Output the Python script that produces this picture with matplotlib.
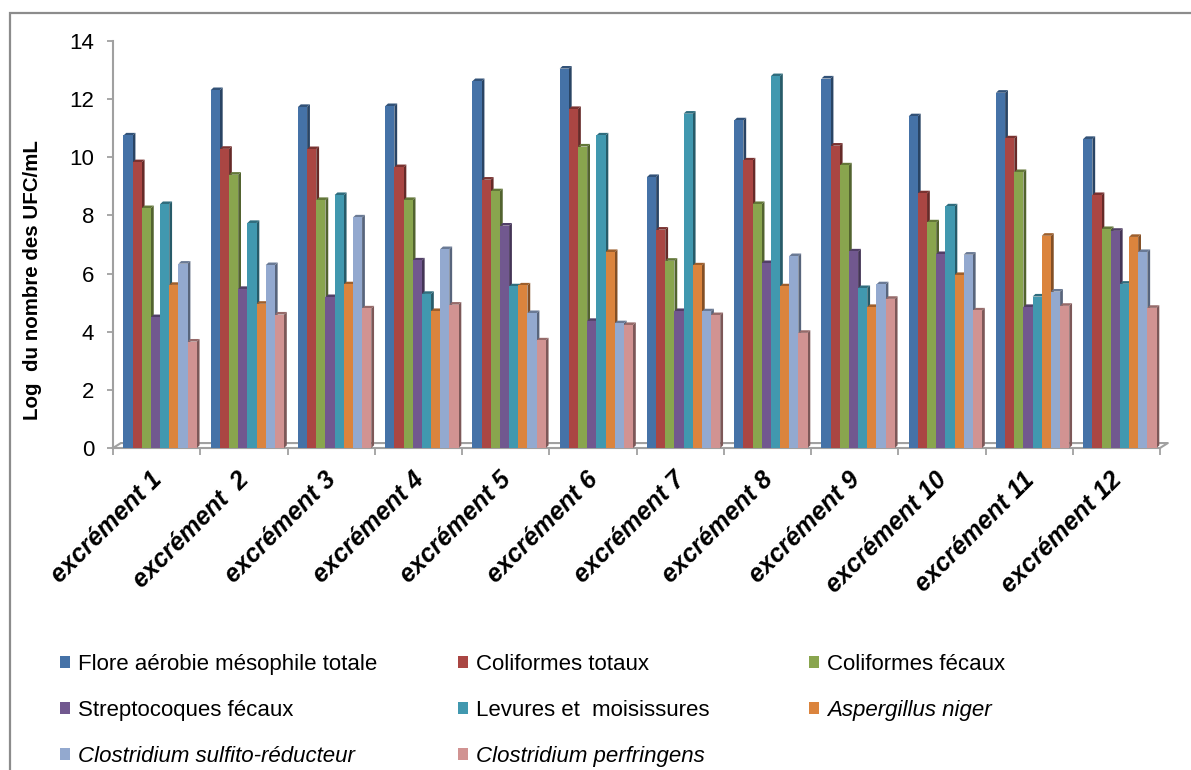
import numpy as np
import matplotlib.pyplot as plt
import matplotlib.colors as mcolors
import matplotlib.transforms as mtransforms
from matplotlib.patches import Polygon, Rectangle, Patch

plt.rcParams['font.family'] = ['Liberation Sans', 'DejaVu Sans']

samples = ["excrément 1", "excrément  2", "excrément 3", "excrément 4",
           "excrément 5", "excrément 6", "excrément 7", "excrément 8",
           "excrément 9", "excrément 10", "excrément 11", "excrément 12"]

series = ["Flore aérobie mésophile totale", "Coliformes totaux", "Coliformes fécaux",
          "Streptocoques fécaux", "Levures et  moisissures", "Aspergillus niger",
          "Clostridium sulfito-réducteur", "Clostridium perfringens"]
italic = [False, False, False, False, False, True, True, True]

# log10 UFC/mL per sample
flore = [10.75, 12.31, 11.73, 11.76, 12.62, 13.05, 9.32, 11.27, 12.71, 11.41, 12.22, 10.63]
coli_tot = [9.83, 10.29, 10.28, 9.66, 9.23, 11.66, 7.51, 9.89, 10.40, 8.76, 10.65, 8.70]
coli_fec = [8.25, 9.40, 8.53, 8.53, 8.83, 10.37, 6.44, 8.39, 9.72, 7.76, 9.49, 7.53]
strepto = [4.50, 5.47, 5.19, 6.45, 7.65, 4.37, 4.71, 6.36, 6.76, 6.67, 4.85, 7.47]
levures = [8.39, 7.74, 8.70, 5.30, 5.56, 10.75, 11.50, 12.79, 5.50, 8.31, 5.21, 5.65]
asperg = [5.61, 4.96, 5.63, 4.71, 5.59, 6.74, 6.28, 5.56, 4.85, 5.95, 7.30, 7.26]
clos_sr = [6.34, 6.29, 7.93, 6.84, 4.64, 4.29, 4.70, 6.60, 5.63, 6.65, 5.38, 6.74]
clos_pf = [3.66, 4.59, 4.80, 4.93, 3.70, 4.23, 4.57, 3.96, 5.13, 4.73, 4.89, 4.82]

values = [flore, coli_tot, coli_fec, strepto, levures, asperg, clos_sr, clos_pf]
colors = ['#4572A7', '#AA4643', '#89A54E', '#71588F',
          '#4198AF', '#DB843D', '#93A9CF', '#D19392']

def shade(c, f):
    r, g, b = mcolors.to_rgb(c)
    return (r * f, g * f, b * f)

W, H = 1191, 770
fig = plt.figure(figsize=(W / 100, H / 100), dpi=100)
ax = fig.add_axes([113 / W, 322 / H, 1047 / W, 407 / H])

x = np.arange(len(samples))
bw = 0.105          # bar width
dx, dy = 0.032, 0.09  # depth of the fake 3d faces
shift = 0.04

for k, (vals, col) in enumerate(zip(values, colors)):
    left = x + shift + (k - 4) * bw
    for x0, v in zip(left, vals):
        x1 = x0 + bw
        ax.add_patch(Polygon([(x1, 0), (x1 + dx, dy), (x1 + dx, v + dy), (x1, v)],
                             closed=True, fc=shade(col, 0.6), ec='none', zorder=2 + 2 * k))
        ax.add_patch(Polygon([(x0, v), (x0 + dx, v + dy), (x1 + dx, v + dy), (x1, v)],
                             closed=True, fc=shade(col, 0.72), ec='none', zorder=2 + 2 * k))
    ax.bar(left, vals, bw, align='edge', color=col, linewidth=0, zorder=3 + 2 * k)

ax.set_xlim(-0.5, 11.5)
ax.set_ylim(0, 14)

gray = '#A0A0A0'
# floor outline
fdx, fdy = 0.09, 0.17
ax.plot([-0.5, -0.5 + fdx, 11.5 + fdx, 11.5], [0, fdy, fdy, 0],
        color=gray, lw=1.5, clip_on=False, zorder=1)

for s in ['top', 'right']:
    ax.spines[s].set_visible(False)
for s in ['left', 'bottom']:
    ax.spines[s].set_color(gray)
    ax.spines[s].set_linewidth(1.5)

ax.set_yticks(range(0, 15, 2))
ax.tick_params(axis='y', length=4.5, width=1.3, color=gray, labelsize=16, pad=9)

ax.set_xticks(x)
ax.set_xticks(np.arange(-0.5, 12, 1), minor=True)
ax.tick_params(axis='x', which='major', length=0, pad=14)
ax.tick_params(axis='x', which='minor', length=5, width=1.3, color=gray)
ax.set_xticklabels(samples, rotation=45, ha='right', va='top', rotation_mode='anchor',
                   fontsize=18, fontweight='bold', fontstyle='italic')
# nudge the slanted labels a little to the left
nudge = mtransforms.ScaledTranslation(-0.07, 0, fig.dpi_scale_trans)
for lab in ax.get_xticklabels():
    lab.set_transform(lab.get_transform() + nudge)

fig.text(33 / W, 1 - 280 / H, "Log  du nombre des UFC/mL", rotation=90,
         ha='center', va='center', fontsize=14.8, fontweight='bold')

# legend laid out row by row in three columns
col_x = [60, 458, 809]
for c in range(3):
    idx = list(range(c, len(series), 3))
    handles = [Patch(facecolor=colors[i], edgecolor='none') for i in idx]
    leg = fig.legend(handles, [series[i] for i in idx], loc='upper left',
                     bbox_to_anchor=(col_x[c] / W, 1 - 654 / H), frameon=False,
                     fontsize=16, handlelength=0.45, handleheight=0.45,
                     handletextpad=0.35, labelspacing=1.12, borderpad=0, borderaxespad=0)
    for t, i in zip(leg.get_texts(), idx):
        if italic[i]:
            t.set_fontstyle('italic')

fig.add_artist(Rectangle((10 / W, -0.05), 1.1, 1 - 13 / H + 0.05, transform=fig.transFigure,
                         fill=False, ec='#8C8C8C', lw=1.6))

fig.savefig('out.png', dpi=100)
